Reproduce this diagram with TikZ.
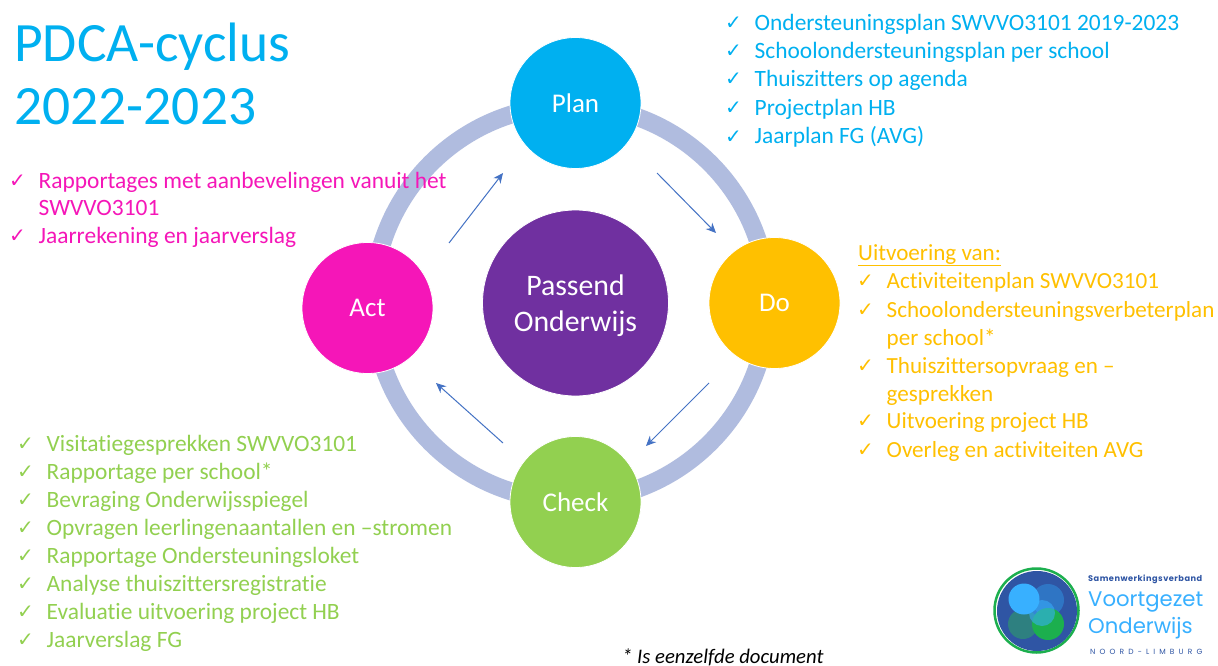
\documentclass[tikz,border=0pt]{standalone}
\usepackage{fontspec}
\setmainfont[Ligatures={NoCommon,TeX}]{Carlito}
\newfontfamily\chk{DejaVu Sans}
\newfontfamily\logofont{Poppins}
\newfontfamily\logosp[LetterSpace=55]{Poppins}
\newfontfamily\logobd[LetterSpace=6]{Poppins}
\definecolor{cplan}{HTML}{00B0F0}
\definecolor{cdo}{HTML}{FFC000}
\definecolor{ccheck}{HTML}{92D050}
\definecolor{cact}{HTML}{F516B8}
\definecolor{cmid}{HTML}{7030A0}
\definecolor{cring}{HTML}{B0BCDF}
\definecolor{carrow}{HTML}{4472C4}
\definecolor{lnavy}{HTML}{2F55A4}
\definecolor{lblue}{HTML}{38B0FF}
\definecolor{lgreen}{HTML}{1CAF4E}
\definecolor{lmid}{HTML}{2F75C4}
\definecolor{lteal}{HTML}{2E8080}
\usetikzlibrary{arrows.meta}
\tikzset{
  x=1pt,y=-1pt,
  disc/.style={circle,draw=white,line width=0.8pt,minimum size=131pt,inner sep=0pt,text=white,font=\fontsize{27}{27}\selectfont},
  flow/.style={carrow,line width=1pt,-{Stealth[length=10pt,width=9pt]}},
  txt/.style={anchor=base west,inner sep=0pt,font=\fontsize{23.4}{23.4}\selectfont},
  tick/.style={anchor=base west,inner sep=0pt,font=\chk\fontsize{20}{20}\selectfont},
}
\newcommand{\itm}[5]{% name, colour, x tick, y, text at x tick+28
  \node[tick,text=#2] (t#1) at (#3-1,#4-1) {\char"2713};
  \node[txt,text=#2] (l#1) at (#3+28.5,#4) {#5};
}
\begin{document}
\begin{tikzpicture}
\useasboundingbox (0,0) rectangle (1218,666);
\fill[white] (0,0) rectangle (1218,666);
\coordinate (ringc) at (570.5,303);
\draw[cring,line width=18pt] (ringc) circle (197.5);
\node[disc,fill=cplan] (plan) at (575.5,103) {Plan};
\node[disc,fill=cdo] (do) at (774.5,303) {Do};
\node[disc,fill=ccheck] (check) at (575.5,502) {Check};
\node[disc,fill=cact] (act) at (367.5,308) {Act};
\node[circle,fill=cmid,draw=white,line width=0.8pt,minimum size=186pt,inner sep=0pt] (mid) at (575.5,303) {};
\node[inner sep=0pt,text=white,align=center,font=\fontsize{29.8}{36}\selectfont] (midtext) at (575.5,306) {Passend\\Onderwijs};
\coordinate (a1s) at (657,173); \coordinate (a1e) at (716,233);
\coordinate (a2s) at (709,383); \coordinate (a2e) at (646,446);
\coordinate (a3s) at (503,443); \coordinate (a3e) at (436,383);
\coordinate (a4s) at (449,243); \coordinate (a4e) at (503,173);
\draw[flow] (a1s) -- (a1e);
\draw[flow] (a2s) -- (a2e);
\draw[flow] (a3s) -- (a3e);
\draw[flow] (a4s) -- (a4e);
\node[anchor=base west,inner sep=0pt,text=cplan,font=\fontsize{55.5}{55.5}\selectfont] (title1) at (14,62) {PDCA-cyclus};
\node[anchor=base west,inner sep=0pt,text=cplan,font=\fontsize{55.5}{55.5}\selectfont] (title2) at (14,125) {2022-2023};
% Plan
\itm{p1}{cplan}{726}{31}{Ondersteuningsplan SWVVO3101 2019-2023}
\itm{p2}{cplan}{726}{59}{Schoolondersteuningsplan per school}
\itm{p3}{cplan}{726}{87}{Thuiszitters op agenda}
\itm{p4}{cplan}{726}{116}{Projectplan HB}
\itm{p5}{cplan}{726}{144}{Jaarplan FG (AVG)}
% Act
\itm{a1}{cact}{10}{188}{Rapportages met aanbevelingen vanuit het}
\node[txt,text=cact] (a1b) at (38.5,215) {SWVVO3101};
\itm{a2}{cact}{10}{243}{Jaarrekening en jaarverslag}
% Do
\tikzset{txt/.append style={font=\fontsize{23.1}{23.1}\selectfont}}
\node[txt,text=cdo] (dh) at (858,260) {\underline{Uitvoering van:}};
\itm{d1}{cdo}{858}{288}{Activiteitenplan SWVVO3101}
\itm{d2}{cdo}{858}{317}{Schoolondersteuningsverbeterplan}
\node[txt,text=cdo] (d2b) at (886.5,345) {per school*};
\itm{d3}{cdo}{858}{373}{Thuiszittersopvraag en --}
\node[txt,text=cdo] (d3b) at (886.5,401) {gesprekken};
\itm{d4}{cdo}{858}{428}{Uitvoering project HB}
\itm{d5}{cdo}{858}{457}{Overleg en activiteiten AVG}
% Check
\tikzset{txt/.append style={font=\fontsize{23.4}{23.4}\selectfont}}
\itm{c1}{ccheck}{18}{451}{Visitatiegesprekken SWVVO3101}
\itm{c2}{ccheck}{18}{479}{Rapportage per school*}
\itm{c3}{ccheck}{18}{507}{Bevraging Onderwijsspiegel}
\itm{c4}{ccheck}{18}{535}{Opvragen leerlingenaantallen en --stromen}
\itm{c5}{ccheck}{18}{563}{Rapportage Ondersteuningsloket}
\itm{c6}{ccheck}{18}{591}{Analyse thuiszittersregistratie}
\itm{c7}{ccheck}{18}{619}{Evaluatie uitvoering project HB}
\itm{c8}{ccheck}{18}{647}{Jaarverslag FG}
\node[anchor=base west,inner sep=0pt,text=black,font=\fontsize{20.7}{20.7}\selectfont\itshape] (note) at (622,663) {* Is eenzelfde document};
% logo
\draw[lgreen,line width=2.5pt] (1036.5,610.5) circle (42);
\fill[lnavy] (1037,611) circle (40);
\fill[lmid] (1048,600) circle (16);
\fill[lteal] (1023,624) circle (15);
\fill[lgreen] (1048,624) circle (16);
\fill[lblue] (1024,599) circle (15.5);
\fill[lblue,opacity=.55] (1042,613) circle (13);
\node[anchor=base west,inner sep=0pt,text=lnavy,font=\logobd\bfseries\fontsize{8.2}{8.2}\selectfont] (lg1) at (1088,581) {Samenwerkingsverband};
\node[anchor=base west,inner sep=0pt,text=lblue,font=\logofont\fontsize{21.2}{21.2}\selectfont] (lg2) at (1088,606) {Voortgezet};
\node[anchor=base west,inner sep=0pt,text=lblue,font=\logofont\fontsize{21.2}{21.2}\selectfont] (lg3) at (1088,633) {Onderwijs};
\node[anchor=base west,inner sep=0pt,text=lnavy,font=\logosp\fontsize{7.5}{7.5}\selectfont] (lg4) at (1090,654) {NOORD-LIMBURG};
\end{tikzpicture}
\end{document}
